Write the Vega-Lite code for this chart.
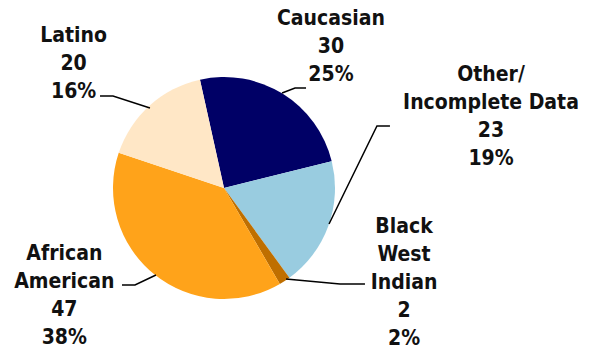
{
  "$schema": "https://vega.github.io/schema/vega-lite/v6.json",
  "width": 448,
  "height": 324,
  "autosize": {"type": "none"},
  "padding": {"left": 0, "top": 26, "right": 148, "bottom": 0},
  "background": "white",
  "config": {"view": {"stroke": null}},
  "datasets": {
    "groups": [
      {"group": "Caucasian", "count": 30, "rank": 1, "label": "Caucasian\n30\n25%"},
      {"group": "Other/Incomplete Data", "count": 23, "rank": 2, "label": "Other/\nIncomplete Data\n23\n19%"},
      {"group": "Black West Indian", "count": 2, "rank": 3, "label": "Black\nWest\nIndian\n2\n2%"},
      {"group": "African American", "count": 47, "rank": 4, "label": "African\nAmerican\n47\n38%"},
      {"group": "Latino", "count": 20, "rank": 5, "label": "Latino\n20\n16%"}
    ],
    "leaders": [
      {"group": "Latino", "step": 1, "x": -0.667, "y": 0.721},
      {"group": "Latino", "step": 2, "x": -1.0, "y": 0.829},
      {"group": "Latino", "step": 3, "x": -1.117, "y": 0.829},
      {"group": "Caucasian", "step": 1, "x": 0.523, "y": 0.856},
      {"group": "Caucasian", "step": 2, "x": 0.64, "y": 0.901},
      {"group": "Caucasian", "step": 3, "x": 0.739, "y": 0.901},
      {"group": "Other/Incomplete Data", "step": 1, "x": 0.946, "y": -0.324},
      {"group": "Other/Incomplete Data", "step": 2, "x": 1.378, "y": 0.559},
      {"group": "Other/Incomplete Data", "step": 3, "x": 1.495, "y": 0.559},
      {"group": "Black West Indian", "step": 1, "x": 0.559, "y": -0.82},
      {"group": "Black West Indian", "step": 2, "x": 1.045, "y": -0.865},
      {"group": "Black West Indian", "step": 3, "x": 1.27, "y": -0.865},
      {"group": "African American", "step": 1, "x": -0.613, "y": -0.784},
      {"group": "African American", "step": 2, "x": -0.802, "y": -0.874},
      {"group": "African American", "step": 3, "x": -0.919, "y": -0.874}
    ]
  },
  "layer": [
    {
      "data": {"name": "groups"},
      "mark": {"type": "arc", "outerRadius": 111},
      "encoding": {
        "theta": {"field": "count", "type": "quantitative", "stack": true, "scale": {"range": [-0.2182, 6.065]}},
        "order": {"field": "rank", "type": "quantitative"},
        "color": {
          "field": "group", "type": "nominal", "legend": null,
          "scale": {
            "domain": ["Caucasian", "Other/Incomplete Data", "Black West Indian", "African American", "Latino"],
            "range": ["#000066", "#99CCE0", "#BF6F00", "#FFA31A", "#FFE7C6"]
          }
        }
      }
    },
    {
      "data": {"name": "leaders"},
      "mark": {"type": "line", "color": "#000000", "strokeWidth": 1.5},
      "encoding": {
        "x": {"field": "x", "type": "quantitative", "axis": null, "scale": {"domain": [-2.018, 2.018], "nice": false, "zero": false}},
        "y": {"field": "y", "type": "quantitative", "axis": null, "scale": {"domain": [-1.459, 1.459], "nice": false, "zero": false}},
        "detail": {"field": "group", "type": "nominal"},
        "order": {"field": "step", "type": "quantitative"}
      }
    },
    {
      "data": {"name": "groups"},
      "mark": {"type": "text", "radius": 150, "dx": 28, "dy": -35, "align": "center", "baseline": "alphabetic", "lineBreak": "\n", "lineHeight": 28, "font": "DejaVu Sans Condensed", "fontWeight": "bold", "fontSize": 21, "color": "#111111"},
      "encoding": {
        "theta": {"field": "count", "type": "quantitative", "stack": true},
        "order": {"field": "rank", "type": "quantitative"},
        "text": {"condition": {"test": "datum.group === 'Caucasian'", "field": "label"}, "value": ""}
      }
    },
    {
      "data": {"name": "groups"},
      "mark": {"type": "text", "radius": 150, "dx": 126, "dy": -158, "align": "center", "baseline": "alphabetic", "lineBreak": "\n", "lineHeight": 28, "font": "DejaVu Sans Condensed", "fontWeight": "bold", "fontSize": 21, "color": "#111111"},
      "encoding": {
        "theta": {"field": "count", "type": "quantitative", "stack": true},
        "order": {"field": "rank", "type": "quantitative"},
        "text": {"condition": {"test": "datum.group === 'Other/Incomplete Data'", "field": "label"}, "value": ""}
      }
    },
    {
      "data": {"name": "groups"},
      "mark": {"type": "text", "radius": 150, "dx": 98, "dy": -81, "align": "center", "baseline": "alphabetic", "lineBreak": "\n", "lineHeight": 28, "font": "DejaVu Sans Condensed", "fontWeight": "bold", "fontSize": 21, "color": "#111111"},
      "encoding": {
        "theta": {"field": "count", "type": "quantitative", "stack": true},
        "order": {"field": "rank", "type": "quantitative"},
        "text": {"condition": {"test": "datum.group === 'Black West Indian'", "field": "label"}, "value": ""}
      }
    },
    {
      "data": {"name": "groups"},
      "mark": {"type": "text", "radius": 150, "dx": -65, "dy": -44, "align": "center", "baseline": "alphabetic", "lineBreak": "\n", "lineHeight": 28, "font": "DejaVu Sans Condensed", "fontWeight": "bold", "fontSize": 21, "color": "#111111"},
      "encoding": {
        "theta": {"field": "count", "type": "quantitative", "stack": true},
        "order": {"field": "rank", "type": "quantitative"},
        "text": {"condition": {"test": "datum.group === 'African American'", "field": "label"}, "value": ""}
      }
    },
    {
      "data": {"name": "groups"},
      "mark": {"type": "text", "radius": 150, "dx": -50, "dy": -35, "align": "center", "baseline": "alphabetic", "lineBreak": "\n", "lineHeight": 28, "font": "DejaVu Sans Condensed", "fontWeight": "bold", "fontSize": 21, "color": "#111111"},
      "encoding": {
        "theta": {"field": "count", "type": "quantitative", "stack": true},
        "order": {"field": "rank", "type": "quantitative"},
        "text": {"condition": {"test": "datum.group === 'Latino'", "field": "label"}, "value": ""}
      }
    }
  ]
}
